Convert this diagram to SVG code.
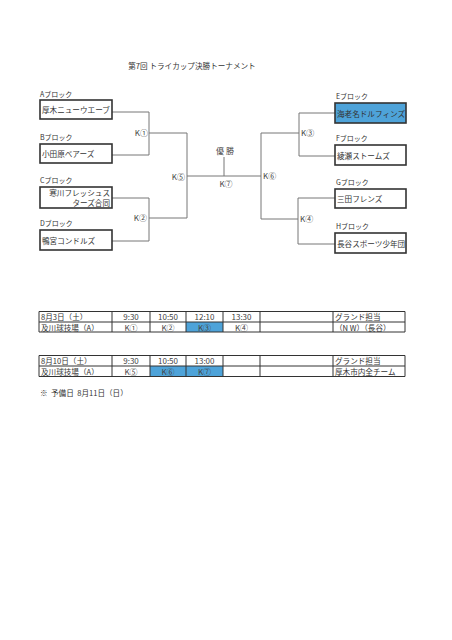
<svg xmlns="http://www.w3.org/2000/svg" width="452" height="640" viewBox="0 0 452 640">
<style>
text{font-family:"Noto Sans CJK JP","Noto Sans",sans-serif;fill:#333}
.t{font-size:7.6px}
.lb{font-size:7px}
.bx{fill:#fff;stroke:#333;stroke-width:1.6}
.blue{fill:#4ea3d9}
.ln{stroke:#777;stroke-width:1;fill:none}
.k{font-size:8px;fill:#444}
.tb{fill:none;stroke:#333;stroke-width:1}
.c{text-anchor:middle}
</style>
<rect width="452" height="640" fill="#fff"/>
<text x="192" y="69" class="t c" font-size="7.6">第7回 トライカップ決勝トーナメント</text>

<g id="connectors">
<path class="ln" d="M112 112H149V155H112M149 133H187M112 198H149V241H112M149 218H187M187 133V218M187 176H261M224 157V176M261 133V219M261 133H299M335 113H299V156H335M261 219H298M335 198H298V244H335"/>
</g>
<g id="labels-k">
<text x="148" y="136" class="k" text-anchor="end">K①</text>
<text x="147" y="221" class="k" text-anchor="end">K②</text>
<text x="185" y="180" class="k" text-anchor="end">K⑤</text>
<text x="226" y="187" class="k c">K⑦</text>
<text x="263" y="179" class="k">K⑥</text>
<text x="301" y="136" class="k">K③</text>
<text x="300" y="222" class="k">K④</text>
<text x="225" y="154" class="k c" font-size="8.5">優 勝</text>
</g>

<g id="nodeA"><text x="40" y="97" class="lb">Aブロック</text><rect class="bx" x="40" y="100" width="72" height="19"/><text x="42" y="113" class="t">厚木ニューウエーブ</text></g>
<g id="nodeB"><text x="40" y="140" class="lb">Bブロック</text><rect class="bx" x="40" y="144" width="72" height="19"/><text x="42" y="157" class="t">小田原ベアーズ</text></g>
<g id="nodeC"><text x="40" y="183" class="lb" font-size="6.5">Cブロック</text><rect class="bx" x="40" y="187" width="72" height="21"/><text x="110" y="196" class="t" text-anchor="end">寒川フレッシュス</text><text x="110" y="205.5" class="t" text-anchor="end">ターズ合同</text></g>
<g id="nodeD"><text x="40" y="226" class="lb">Dブロック</text><rect class="bx" x="40" y="230" width="72" height="20"/><text x="42" y="243.5" class="t">鴨宮コンドルズ</text></g>

<g id="nodeE"><text x="336" y="99" class="lb">Eブロック</text><rect class="bx blue" x="335" y="103" width="71" height="20"/><text x="337" y="116.5" class="t">海老名ドルフィンズ</text></g>
<g id="nodeF"><text x="336" y="141" class="lb">Fブロック</text><rect class="bx" x="335" y="145" width="71" height="20"/><text x="337" y="158.5" class="t">綾瀬ストームズ</text></g>
<g id="nodeG"><text x="336" y="185" class="lb">Gブロック</text><rect class="bx" x="335" y="189" width="71" height="19"/><text x="337" y="201.5" class="t">三田フレンズ</text></g>
<g id="nodeH"><text x="336" y="229" class="lb">Hブロック</text><rect class="bx" x="335" y="233" width="71" height="20"/><text x="337" y="246.5" class="t" font-size="7.4">長谷スポーツ少年団</text></g>

<g id="table1">
<rect x="186" y="322" width="37" height="10" class="blue"/>
<path class="tb" d="M39 311.5H405V332H39ZM39 322H405M112 311.5V332M150 311.5V332M186 311.5V332M223 311.5V332M260 311.5V332M333 311.5V332"/>
<text x="41" y="320" class="t">8月3日（土）</text>
<text x="131" y="320" class="k c" font-size="7">9:30</text>
<text x="168" y="320" class="k c" font-size="7">10:50</text>
<text x="204.5" y="320" class="k c" font-size="7">12:10</text>
<text x="241.5" y="320" class="k c" font-size="7">13:30</text>
<text x="335" y="320" class="t">グランド担当</text>
<text x="41" y="330.5" class="t" font-size="8.3">及川球技場（A）</text>
<text x="131" y="330.5" class="k c" font-size="7.5">K①</text>
<text x="168" y="330.5" class="k c" font-size="7.5">K②</text>
<text x="204.5" y="330.5" class="k c" font-size="7.5">K③</text>
<text x="241.5" y="330.5" class="k c" font-size="7.5">K④</text>
<text x="335" y="330.5" class="t">（N W）（長谷）</text>
</g>

<g id="table2">
<rect x="150" y="366" width="73" height="10.5" class="blue"/>
<path class="tb" d="M39 355.5H405V376.5H39ZM39 366H405M112 355.5V376.5M150 355.5V376.5M186 355.5V376.5M223 355.5V376.5M260 355.5V376.5M333 355.5V376.5"/>
<text x="41" y="364" class="t">8月10日（土）</text>
<text x="131" y="364" class="k c" font-size="7">9:30</text>
<text x="168" y="364" class="k c" font-size="7">10:50</text>
<text x="204.5" y="364" class="k c" font-size="7">13:00</text>
<text x="335" y="364" class="t">グランド担当</text>
<text x="41" y="374.5" class="t" font-size="8.3">及川球技場（A）</text>
<text x="131" y="374.5" class="k c" font-size="7.5">K⑤</text>
<text x="168" y="374.5" class="k c" font-size="7.5">K⑥</text>
<text x="204.5" y="374.5" class="k c" font-size="7.5">K⑦</text>
<text x="335" y="374.5" class="t">厚木市内全チーム</text>
</g>

<text x="40" y="396" class="t" font-size="8" xml:space="preserve">※  予備日  8月11日（日）</text>
</svg>
